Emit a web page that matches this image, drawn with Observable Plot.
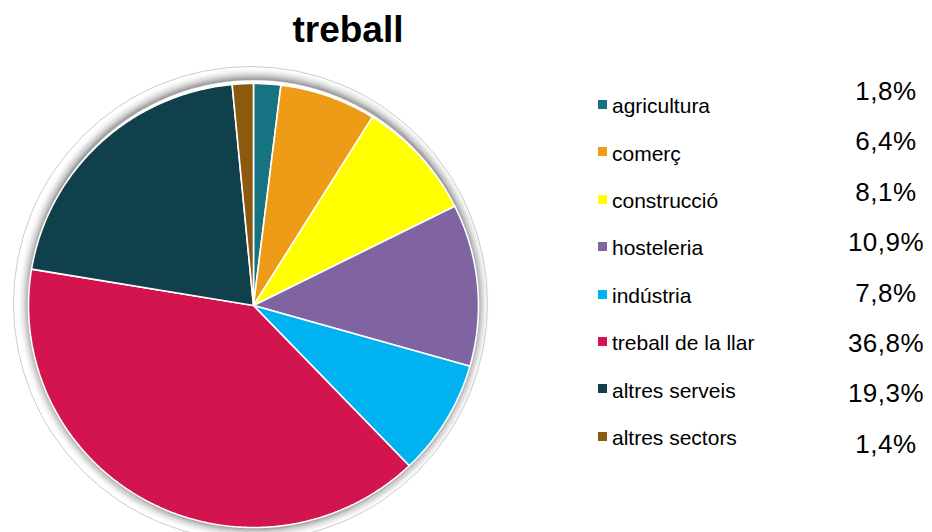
<!DOCTYPE html>
<html>
<head>
<meta charset="utf-8">
<script src="https://cdn.jsdelivr.net/npm/d3@7"></script>
<script src="https://cdn.jsdelivr.net/npm/@observablehq/plot@0.6"></script>
<style>
  html, body { margin: 0; padding: 0; background: #fff; }
  #page { position: relative; width: 932px; height: 532px; overflow: hidden; font-family: "Liberation Sans", Arial, sans-serif; color: #000; }
  #title { position: absolute; left: 248px; width: 200px; top: 11px; text-align: center; font-weight: bold; font-size: 37px; line-height: 1; }
  #chart { position: absolute; left: 0; top: 56px; }
  .lg-sq { position: absolute; width: 9px; height: 9px; }
  .lg-lab { position: absolute; font-size: 21px; line-height: 1; white-space: nowrap; }
  .lg-pct { position: absolute; width: 100px; text-align: center; font-size: 26px; line-height: 1; letter-spacing: 0.5px; white-space: nowrap; }
</style>
</head>
<body>
<div id="page">
  <div id="title"></div>
  <div id="chart"></div>
</div>
<script>
const title = "treball";
const categories = ["agricultura", "comerç", "construcció", "hosteleria", "indústria", "treball de la llar", "altres serveis", "altres sectors"];
const values = [1.8, 6.4, 8.1, 10.9, 7.8, 36.8, 19.3, 1.4];
const colors = ["#167381", "#EE9B17", "#FFFF00", "#8064A1", "#00B2EF", "#D3154F", "#0F404B", "#8B5A0F"];

document.getElementById("title").textContent = title;

// Build pie wedge outlines (unit circle, clockwise from 12 o'clock)
const total = d3.sum(values);
const wedgeRows = [];
let cum = 0;
categories.forEach((cat, i) => {
  const a0 = cum / total * 2 * Math.PI;
  cum += values[i];
  const a1 = cum / total * 2 * Math.PI;
  const n = Math.max(2, Math.ceil((a1 - a0) / (Math.PI / 360)));
  wedgeRows.push({cat, x: 0, y: 0});
  for (let k = 0; k <= n; k++) {
    const a = a0 + (a1 - a0) * k / n;
    wedgeRows.push({cat, x: Math.sin(a), y: Math.cos(a)});
  }
  wedgeRows.push({cat, x: 0, y: 0});
});

const shadowSteps = d3.range(0, 13);

const chart = Plot.plot({
  width: 932,
  height: 476,
  x: {domain: [-1, 1], range: [28, 478], axis: null},
  y: {domain: [-1, 1], range: [471, 27], axis: null},
  r: {type: "identity"},
  opacity: {type: "identity"},
  color: {domain: categories, range: colors},
  marks: [
    // soft shadow around the pie
    Plot.dot(shadowSteps, {
      x: () => 0, y: () => 0,
      r: d => 224 + d,
      dy: -2,
      fill: "none",
      stroke: "#000",
      strokeWidth: 1.5,
      strokeOpacity: d => 0.3 * Math.pow(1 - d / 13, 2)
    }),
    // thin outer ring
    Plot.dot([0], {x: () => 0, y: () => 0, r: 237, dx: -3, dy: -2, fill: "none", stroke: "#cccccc", strokeWidth: 1}),
    // pie wedges
    Plot.line(wedgeRows, {x: "x", y: "y", z: "cat", fill: "cat", stroke: "white", strokeWidth: 1.6, strokeLinejoin: "miter"})
  ]
});
document.getElementById("chart").appendChild(chart);

// Legend (labels with swatches) and percentage column
const page = document.getElementById("page");
const fmt = v => v.toFixed(1).replace(".", ",") + "%";
categories.forEach((cat, i) => {
  const sq = document.createElement("div");
  sq.className = "lg-sq";
  sq.style.left = "598px";
  sq.style.top = (100 + 47.4 * i) + "px";
  sq.style.background = colors[i];
  page.appendChild(sq);

  const lab = document.createElement("div");
  lab.className = "lg-lab";
  lab.style.left = "612px";
  lab.style.top = (95.2 + 47.4 * i) + "px";
  lab.textContent = cat;
  page.appendChild(lab);

  const pct = document.createElement("div");
  pct.className = "lg-pct";
  pct.style.left = "836px";
  pct.style.top = (78 + 50.4 * i) + "px";
  pct.textContent = fmt(values[i]);
  page.appendChild(pct);
});
</script>
</body>
</html>
